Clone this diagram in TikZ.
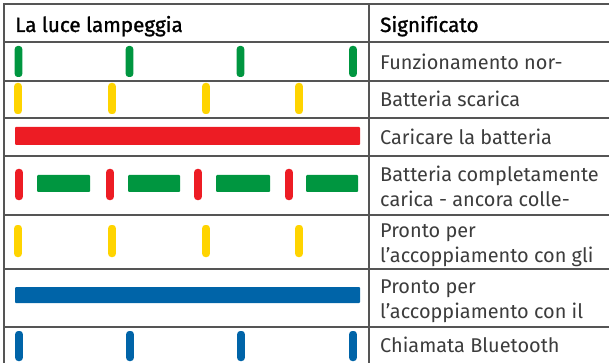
\documentclass[tikz,border=0pt]{standalone}
\usepackage{fontspec}
\setmainfont[Ligatures=NoCommon]{Fira Sans}
\newfontfamily\hdrfont[FakeBold=1.3,Ligatures=NoCommon]{Fira Sans}
\definecolor{ledgreen}{RGB}{0,150,64}
\definecolor{ledyellow}{RGB}{255,212,0}
\definecolor{ledred}{RGB}{237,28,36}
\definecolor{ledblue}{RGB}{0,100,168}
\definecolor{rule}{RGB}{85,85,85}
\definecolor{bodytext}{RGB}{60,60,60}
\begin{document}
\begin{tikzpicture}[x=1pt,y=-1pt,
  gridline/.style={draw=rule,line width=1.1pt},
  vbar/.style={rounded corners=3pt},
  hbar/.style={rounded corners=1pt},
  hdr/.style={anchor=base west,inner sep=0pt,font=\hdrfont\fontsize{20.6}{24}\selectfont,text=black},
  txt/.style={anchor=base west,inner sep=0pt,font=\fontsize{19.9}{23}\selectfont,text=bodytext}]
\useasboundingbox (0,0) rectangle (609,363);
% grid
\draw[gridline] (609,4) -- (4,4) -- (4,363);
\draw[gridline] (369,4) -- (369,363);
\foreach \y in {42,81,118,156,215,269,327}
  \draw[gridline] (4,\y) -- (609,\y);
% header
\node[hdr] (h1) at (15,32) {La luce lampeggia};
\node[hdr] (h2) at (380,32) {Significato};
% row 1 green flashes
\foreach \c in {18.5,129.5,240.5,353}
  \fill[ledgreen,vbar] (\c-3.8,46) rectangle (\c+3.8,77);
\node[txt] (t1) at (380,70) {Funzionamento nor-};
% row 2 yellow flashes
\foreach \c in {18,112,206,299}
  \fill[ledyellow,vbar] (\c-3.8,83) rectangle (\c+3.8,114);
\node[txt] (t2) at (380,107) {Batteria scarica};
% row 3 red steady
\fill[ledred,hbar] (15,127) rectangle (360,145);
\node[txt] (t3) at (380,145) {Caricare la batteria};
% row 4 red/green
\foreach \c in {19,110,198,289}
  \fill[ledred,vbar] (\c-3.8,169) rectangle (\c+3.8,200);
\foreach \a/\b in {37/90,128/180,216/270,306/358}
  \fill[ledgreen,hbar] (\a,175) rectangle (\b,192);
\node[txt] (t4a) at (380,182) {Batteria completamente};
\node[txt] (t4b) at (380,207) {carica - ancora colle-};
% row 5 yellow flashes
\foreach \c in {18,112,206,299}
  \fill[ledyellow,vbar] (\c-3.8,225) rectangle (\c+3.8,257);
\node[txt] (t5a) at (380,237) {Pronto per};
\node[txt] (t5b) at (380,262) {l’accoppiamento con gli};
% row 6 blue steady
\fill[ledblue,hbar] (15,287) rectangle (360,303);
\node[txt] (t6a) at (380,293) {Pronto per};
\node[txt] (t6b) at (380,318) {l’accoppiamento con il};
% row 7 blue flashes
\foreach \c in {19,130,241,353}
  \fill[ledblue,vbar] (\c-3.8,331) rectangle (\c+3.8,361);
\node[txt] (t7) at (380,352) {Chiamata Bluetooth};
\end{tikzpicture}
\end{document}
